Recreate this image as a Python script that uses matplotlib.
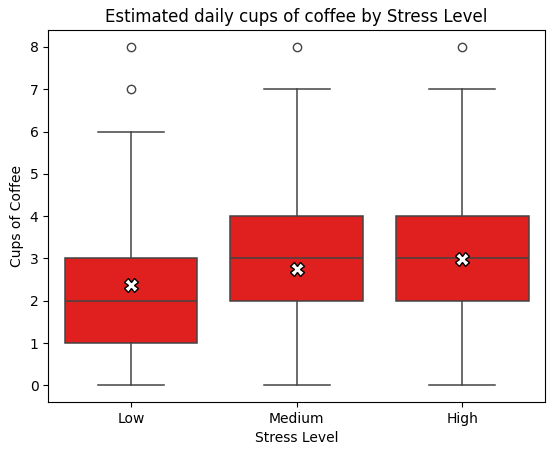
import matplotlib
matplotlib.use("Agg")
import matplotlib.pyplot as plt

categories = ["Low", "Medium", "High"]
q1 = [1, 2, 2]
med = [2, 3, 3]
q3 = [3, 4, 4]
whislo = [0, 0, 0]
whishi = [6, 7, 7]
fliers = [[7, 8], [8], [8]]
means = [2.37, 2.75, 2.98]

stats = [dict(label=c, q1=a, med=m, q3=b, whislo=lo, whishi=hi, fliers=f, mean=mn)
         for c, a, m, b, lo, hi, f, mn in zip(categories, q1, med, q3, whislo, whishi, fliers, means)]

fig = plt.figure(figsize=(5.54, 4.55), dpi=100)
ax = fig.add_axes([0.087, 0.116, 0.897, 0.818])
lc = "#444444"
ax.bxp(stats, positions=range(3), widths=0.8, patch_artist=True, showmeans=True,
       boxprops=dict(facecolor="#e01f1f", edgecolor=lc, linewidth=1.1),
       medianprops=dict(color=lc, linewidth=1.1),
       whiskerprops=dict(color=lc, linewidth=1.1),
       capprops=dict(color=lc, linewidth=1.1),
       flierprops=dict(marker="o", markerfacecolor="none", markeredgecolor=lc, markersize=6),
       meanprops=dict(marker="X", markerfacecolor="white", markeredgecolor="black", markersize=10))
ax.set_xlim(-0.5, 2.5)
ax.set_ylim(-0.4, 8.4)
ax.set_xticks(range(3))
ax.set_xticklabels(categories)
ax.set_xlabel("Stress Level")
ax.set_ylabel("Cups of Coffee")
ax.set_title("Estimated daily cups of coffee by Stress Level")
fig.savefig("out.png", dpi=100)
